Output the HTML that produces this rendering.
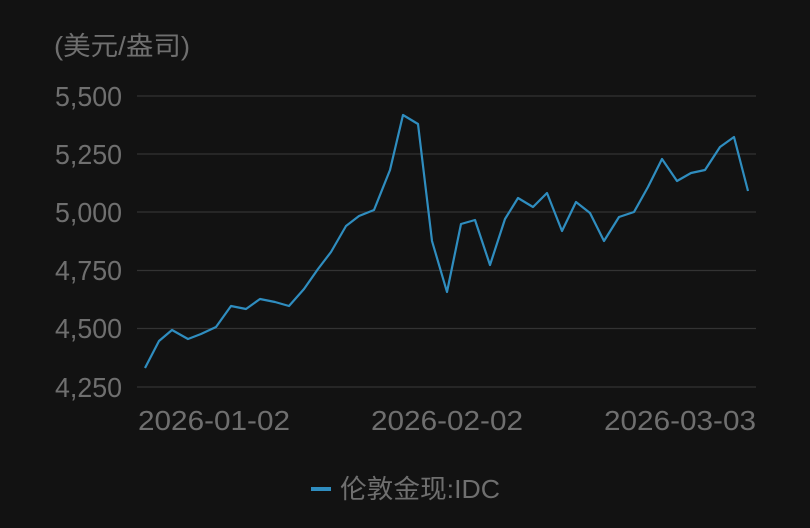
<!DOCTYPE html>
<html><head><meta charset="utf-8"><style>
html,body{margin:0;padding:0;background:#121212;}
svg{display:block;}
text{font-family:"Liberation Sans","Noto Sans CJK SC",sans-serif;fill:#6f6f6f;}
</style></head><body>
<svg width="810" height="528" viewBox="0 0 810 528">
<rect width="810" height="528" fill="#121212"/>
<text x="54" y="55" font-size="26" textLength="136" lengthAdjust="spacingAndGlyphs">(美元/盎司)</text>
<g stroke="#333" stroke-width="1.3">
<line x1="137" y1="96" x2="756" y2="96"/>
<line x1="137" y1="154" x2="756" y2="154"/>
<line x1="137" y1="212" x2="756" y2="212"/>
<line x1="137" y1="270.5" x2="756" y2="270.5"/>
<line x1="137" y1="328.5" x2="756" y2="328.5"/>
<line x1="137" y1="387" x2="756" y2="387"/>
</g>
<g font-size="28">
<text x="55" y="106" textLength="67" lengthAdjust="spacingAndGlyphs">5,500</text>
<text x="55" y="164" textLength="67" lengthAdjust="spacingAndGlyphs">5,250</text>
<text x="55" y="222" textLength="67" lengthAdjust="spacingAndGlyphs">5,000</text>
<text x="55" y="280" textLength="67" lengthAdjust="spacingAndGlyphs">4,750</text>
<text x="55" y="338" textLength="67" lengthAdjust="spacingAndGlyphs">4,500</text>
<text x="55" y="397" textLength="67" lengthAdjust="spacingAndGlyphs">4,250</text>
</g>
<g font-size="28">
<text x="138" y="430" textLength="152" lengthAdjust="spacingAndGlyphs">2026-01-02</text>
<text x="371" y="430" textLength="152" lengthAdjust="spacingAndGlyphs">2026-02-02</text>
<text x="604" y="430" textLength="152" lengthAdjust="spacingAndGlyphs">2026-03-03</text>
</g>
<polyline fill="none" stroke="#2f8dbf" stroke-width="2.2" stroke-linejoin="round" points="145,368 159,341 172,330 188,339 201,334 216,327 231,306 246,309 260,299 275,302 289,306 304,289 318,269 331,252 346,226 359,216 374,210 390,170 403,115 418,124 432,241 447,292 461,224 475,220 490,265 505,219 518,198 533,207 547,193 562,231 576,202 590,213 604,241 619,217 634,212 648,187 662,159 677,181 691,173 705,170 720,147 734,137 748,191"/>
<line x1="311" y1="489" x2="331" y2="489" stroke="#2f8dbf" stroke-width="4"/>
<text x="340" y="498" font-size="26" textLength="160" lengthAdjust="spacingAndGlyphs">伦敦金现:IDC</text>
</svg>
</body></html>
